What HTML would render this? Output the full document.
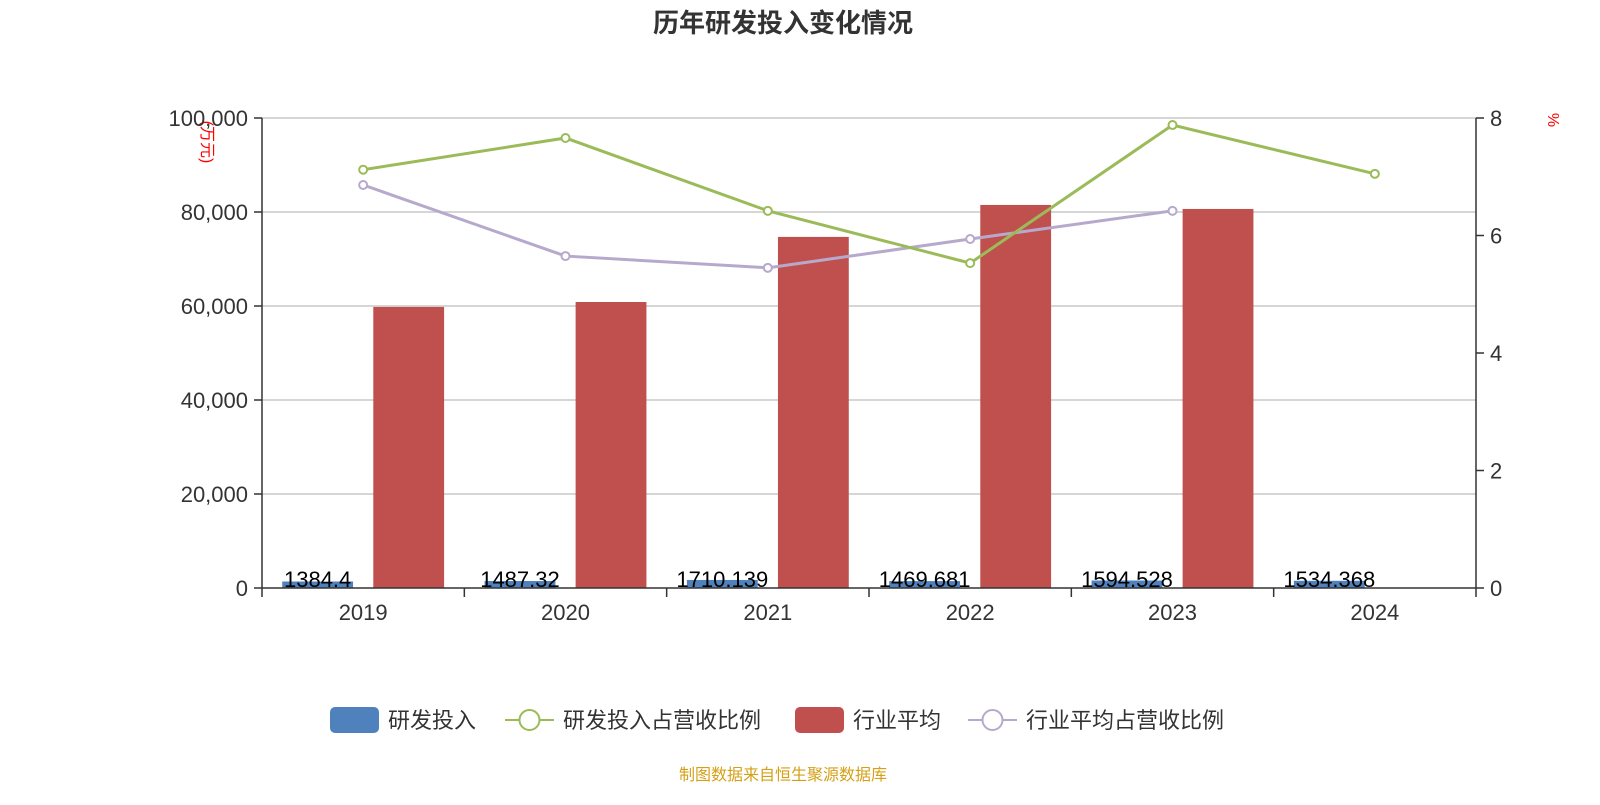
<!DOCTYPE html>
<html><head><meta charset="utf-8"><style>
body{margin:0;background:#fff;}
svg text{font-family:"Liberation Sans","Noto Sans CJK SC",sans-serif;}
</style></head><body>
<svg id="c" width="1600" height="800" xmlns="http://www.w3.org/2000/svg">
<text x="783" y="32" text-anchor="middle" font-size="26" font-weight="bold" fill="#333">历年研发投入变化情况</text>
<text transform="translate(202,142) rotate(90)" text-anchor="middle" font-size="16" fill="#f00">(万元)</text>
<text transform="translate(1548,120) rotate(90)" text-anchor="middle" font-size="16" fill="#f00">%</text>
<g id="grid"></g><g id="bars"></g><g id="lines"></g><g id="axes"></g>
<g id="legend"></g>
<text x="783" y="780" text-anchor="middle" font-size="16" fill="#d4a017">制图数据来自恒生聚源数据库</text>
</svg>
<script>
const categories=["2019","2020","2021","2022","2023","2024"];
const rdInvest=[1384.4,1487.32,1710.139,1469.681,1594.528,1534.368];
const rdLabels=["1384.4","1487.32","1710.139","1469.681","1594.528","1534.368"];
const industryAvg=[59800,60850,74700,81500,80650,null];
const rdRatio=[7.12,7.66,6.42,5.53,7.88,7.05];
const industryRatio=[6.86,5.65,5.45,5.94,6.42,null];
const leftTicks=[0,20000,40000,60000,80000,100000];
const leftTickLabels=["0","20,000","40,000","60,000","80,000","100,000"];
const rightTicks=[0,2,4,6,8];

const NS="http://www.w3.org/2000/svg";
const L=262,R=1476,T=118,B=588;
const bw=(R-L)/categories.length;
const yL=v=>B-(v/100000)*(B-T);
const yR=v=>B-(v/8)*(B-T);
const bandX=i=>L+i*bw;
function mk(tag,attrs,parent,txt){const e=document.createElementNS(NS,tag);for(const k in attrs)e.setAttribute(k,attrs[k]);if(txt!=null)e.textContent=txt;document.getElementById(parent).appendChild(e);return e;}

leftTicks.forEach((t,i)=>{
  if(t>0){const g=mk('line',{x1:L,x2:R,y1:yL(t),y2:yL(t),stroke:'#c8c8c8','stroke-width':1.5},'grid');
  
  }
  const tk=mk('line',{x1:L-8,x2:L,y1:yL(t),y2:yL(t),stroke:'#333','stroke-width':1.5},'axes');
  
  
  const tx=mk('text',{x:L-14,y:yL(t)+8,'text-anchor':'end','font-size':22,fill:'#333'},'axes',leftTickLabels[i]);
  
  
});
rightTicks.forEach(t=>{
  const tk=mk('line',{x1:R,x2:R+8,y1:yR(t),y2:yR(t),stroke:'#333','stroke-width':1.5},'axes');
  
  
  const tx=mk('text',{x:R+14,y:yR(t)+8,'font-size':22,fill:'#333'},'axes',String(t));
  
  
});
let a=mk('line',{x1:L,x2:L,y1:T,y2:B,stroke:'#333','stroke-width':1.5},'axes');


a=mk('line',{x1:R,x2:R,y1:T,y2:B,stroke:'#333','stroke-width':1.5},'axes');


a=mk('line',{x1:L,x2:R,y1:B,y2:B,stroke:'#333','stroke-width':1.5},'axes');


for(let i=0;i<=categories.length;i++){
  const tk=mk('line',{x1:bandX(i),x2:bandX(i),y1:B,y2:B+9,stroke:'#333','stroke-width':1.5},'axes');
  
  
}
categories.forEach((c,i)=>{
  const tx=mk('text',{x:bandX(i)+bw/2,y:B+32,'text-anchor':'middle','font-size':22,fill:'#333'},'axes',c);
  
  
  const x0=bandX(i)+bw*0.1,w=bw*0.35;
  const b=mk('rect',{x:x0,y:yL(rdInvest[i]),width:w,height:B-yL(rdInvest[i]),fill:'#4f81bd'},'bars');
  
  
  if(industryAvg[i]!=null){
    const r=mk('rect',{x:bandX(i)+bw*0.55,y:yL(industryAvg[i]),width:w,height:B-yL(industryAvg[i]),fill:'#c0504d'},'bars');
    
    
  }
  const lb=mk('text',{x:x0+w/2,y:B-1,'text-anchor':'middle','font-size':22,fill:'#000'},'bars',rdLabels[i]);
  
  
});
function line(vals,color,name){
  const pts=[];vals.forEach((v,i)=>{if(v!=null)pts.push([bandX(i)+bw/2,yR(v)]);});
  const p=mk('polyline',{points:pts.map(p=>p.join(',')).join(' '),fill:'none',stroke:color,'stroke-width':3},'lines');
  
  
  pts.forEach(q=>{const c=mk('circle',{cx:q[0],cy:q[1],r:4,fill:'#fff',stroke:color,'stroke-width':2},'lines');
    
    });
}
line(industryRatio,'#b7a9cc','industry-ratio');
line(rdRatio,'#9bbb59','rd-ratio');

const leg=[["研发投入","bar","#4f81bd",330],["研发投入占营收比例","line","#9bbb59",505],["行业平均","bar","#c0504d",795],["行业平均占营收比例","line","#b7a9cc",968]];
leg.forEach(l=>{
  const g=mk('g',{},'legend');
  
  
  const x=l[3],y=720;let tx;
  if(l[1]=="bar"){const r=document.createElementNS(NS,'rect');r.setAttribute('x',x);r.setAttribute('y',y-13);r.setAttribute('width',49);r.setAttribute('height',26);r.setAttribute('rx',5);r.setAttribute('fill',l[2]);g.appendChild(r);}
  else{const ln=document.createElementNS(NS,'line');ln.setAttribute('x1',x);ln.setAttribute('x2',x+49);ln.setAttribute('y1',y);ln.setAttribute('y2',y);ln.setAttribute('stroke',l[2]);ln.setAttribute('stroke-width',2);g.appendChild(ln);
    const c=document.createElementNS(NS,'circle');c.setAttribute('cx',x+24.5);c.setAttribute('cy',y);c.setAttribute('r',10);c.setAttribute('fill','#fff');c.setAttribute('stroke',l[2]);c.setAttribute('stroke-width',2);g.appendChild(c);}
  const t=document.createElementNS(NS,'text');t.setAttribute('x',x+58);t.setAttribute('y',y+8);t.setAttribute('font-size',22);t.setAttribute('fill','#333');t.textContent=l[0];g.appendChild(t);
});
</script>
</body></html>
